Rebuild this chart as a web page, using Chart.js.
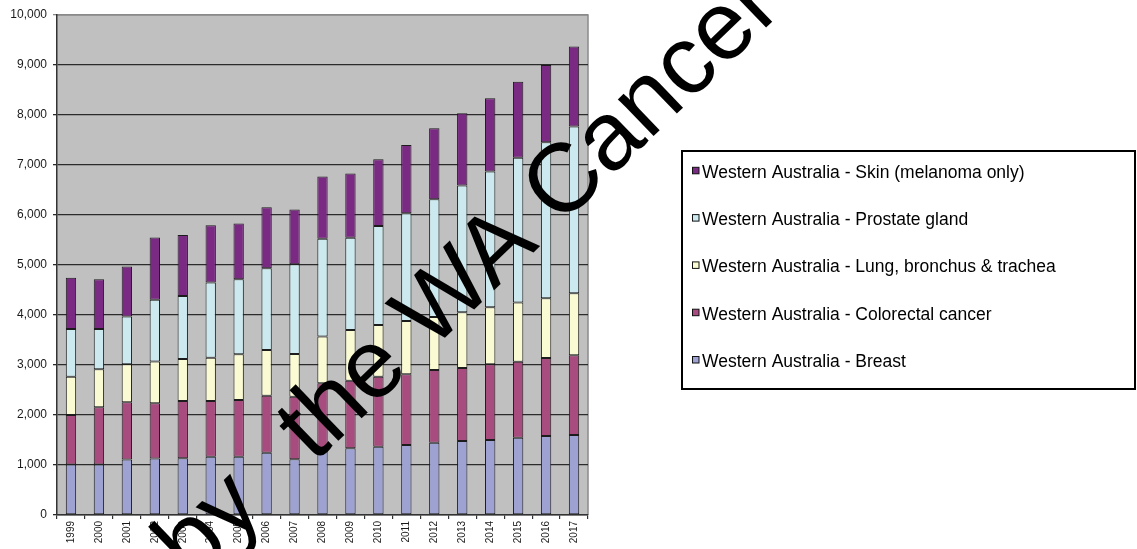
<!DOCTYPE html>
<html>
<head>
<meta charset="utf-8">
<script src="https://cdn.jsdelivr.net/npm/chart.js@4/dist/chart.umd.min.js"></script>
<style>
  html, body { margin: 0; padding: 0; background: #ffffff; }
  #wrap { width: 1137px; height: 549px; }
</style>
</head>
<body>
<div id="wrap"><canvas id="c" width="1137" height="549"></canvas></div>
<script>
// Years on the category axis
const years = ['1999','2000','2001','2002','2003','2004','2005','2006','2007','2008',
               '2009','2010','2011','2012','2013','2014','2015','2016','2017'];

// New cases per year, Western Australia, by cancer site
const breast     = [1010, 1010, 1110, 1130, 1135, 1165, 1165, 1245, 1115, 1335,
                    1335, 1365, 1400, 1445, 1480, 1500, 1545, 1580, 1600];
const colorectal = [990, 1145, 1145, 1105, 1145, 1115, 1135, 1140, 1250, 1300,
                    1350, 1400, 1415, 1455, 1460, 1515, 1520, 1560, 1595];
const lung       = [765, 760, 760, 835, 840, 865, 915, 915, 855, 935,
                    1015, 1035, 1065, 1060, 1115, 1140, 1185, 1195, 1240];
const prostate   = [955, 805, 955, 1235, 1260, 1505, 1500, 1635, 1795, 1955,
                    1845, 1980, 2155, 2355, 2535, 2715, 2895, 3120, 3335];
const melanoma   = [1025, 995, 1000, 1245, 1220, 1145, 1115, 1220, 1095, 1245,
                    1285, 1335, 1365, 1420, 1445, 1465, 1520, 1545, 1600];

// Series names, bottom of the stack first
const seriesNames = [
  'Western Australia - Breast',
  'Western Australia - Colorectal cancer',
  'Western Australia - Lung, bronchus & trachea',
  'Western Australia - Prostate gland',
  'Western Australia - Skin (melanoma only)'
];

// Value axis tick values
const yTickValues = [0, 1000, 2000, 3000, 4000, 5000, 6000, 7000, 8000, 9000, 10000];

const seriesColors = ['#9DA2D3', '#A84B7E', '#FBFBD3', '#CBE9EE', '#7A2A83'];
const seriesValues = [breast, colorectal, lung, prostate, melanoma];

const FONT = "'Liberation Sans', Arial, sans-serif";

// Grey plot background and the light frame on its top/right sides
const plotBackground = {
  id: 'plotBackground',
  beforeDraw(chart) {
    const { ctx, chartArea: a } = chart;
    ctx.save();
    ctx.fillStyle = '#C0C0C0';
    ctx.fillRect(a.left, a.top, a.right - a.left, a.bottom - a.top);
    ctx.strokeStyle = '#8a8a8a';
    ctx.lineWidth = 1.5;
    ctx.beginPath();
    ctx.moveTo(a.left, a.top);
    ctx.lineTo(a.right, a.top);
    ctx.lineTo(a.right, a.bottom);
    ctx.stroke();
    ctx.restore();
  }
};

// Boxed legend to the right of the plot, top series listed first
const boxedLegend = {
  id: 'boxedLegend',
  afterDraw(chart) {
    const { ctx } = chart;
    const box = { x: 682, y: 151, w: 453, h: 238 };
    ctx.save();
    ctx.strokeStyle = '#000000';
    ctx.lineWidth = 2;
    ctx.strokeRect(box.x, box.y, box.w, box.h);
    ctx.font = '17.5px ' + FONT;
    ctx.textBaseline = 'middle';
    ctx.fillStyle = '#000000';
    const ds = chart.data.datasets.slice().reverse();
    ds.forEach((d, i) => {
      const cy = 171.8 + i * 47.3;
      ctx.fillStyle = d.backgroundColor;
      ctx.fillRect(692.5, cy - 4.5, 6.5, 6.5);
      ctx.strokeStyle = '#111111';
      ctx.lineWidth = 1;
      ctx.strokeRect(692.5, cy - 4.5, 6.5, 6.5);
      ctx.fillStyle = '#000000';
      ctx.fillText(d.label, 702, cy + 1);
    });
    ctx.restore();
  }
};

// Diagonal credit line across the chart
const creditLine = {
  id: 'creditLine',
  afterDraw(chart) {
    const { ctx } = chart;
    ctx.save();
    ctx.translate(221, 554);
    ctx.rotate(-44 * Math.PI / 180);
    ctx.font = '97px ' + FONT;
    ctx.fillStyle = '#000000';
    ctx.textBaseline = 'alphabetic';
    const gap = ctx.measureText('by ').width;
    ctx.fillText('by', -40, 0);
    ctx.fillText('the WA Cancer', gap, 0);
    ctx.restore();
  }
};

const datasets = seriesNames.map((name, i) => ({
  label: name,
  data: seriesValues[i],
  backgroundColor: seriesColors[i],
  borderColor: '#1c1c1c',
  borderWidth: 1,
  borderSkipped: false,
  barPercentage: 0.37,
  categoryPercentage: 1.0
}));

new Chart(document.getElementById('c'), {
  type: 'bar',
  data: { labels: years, datasets },
  options: {
    responsive: false,
    animation: false,
    devicePixelRatio: 1,
    layout: { padding: { top: 15, right: 549, left: 0, bottom: 0 } },
    plugins: {
      legend: { display: false },
      tooltip: { enabled: false }
    },
    scales: {
      x: {
        stacked: true,
        afterFit(scale) { scale.height = 34; },
        grid: {
          display: true,
          drawOnChartArea: false,
          drawTicks: true,
          tickLength: 4,
          color: '#333333',
          lineWidth: 1.2,
          offset: true
        },
        border: { display: true, color: '#333333', width: 1.5 },
        ticks: {
          minRotation: 90,
          maxRotation: 90,
          autoSkip: false,
          padding: 2,
          color: '#1a1a1a',
          font: { family: FONT, size: 10 }
        }
      },
      y: {
        stacked: true,
        min: 0,
        max: 10000,
        afterFit(scale) { scale.width = 57; },
        afterBuildTicks(scale) {
          scale.ticks = yTickValues.map(v => ({ value: v }));
        },
        grid: {
          display: true,
          drawTicks: true,
          tickLength: 4,
          color: (c) => (c.tick && c.tick.value === 10000) ? '#8a8a8a' : '#2b2b2b',
          lineWidth: 1.3
        },
        border: { display: true, color: '#333333', width: 1.5 },
        ticks: {
          padding: 6,
          color: '#1a1a1a',
          font: { family: FONT, size: 12 },
          callback: (v) => Number(v).toLocaleString('en-US')
        }
      }
    }
  },
  plugins: [plotBackground, boxedLegend, creditLine]
});
</script>
</body>
</html>
